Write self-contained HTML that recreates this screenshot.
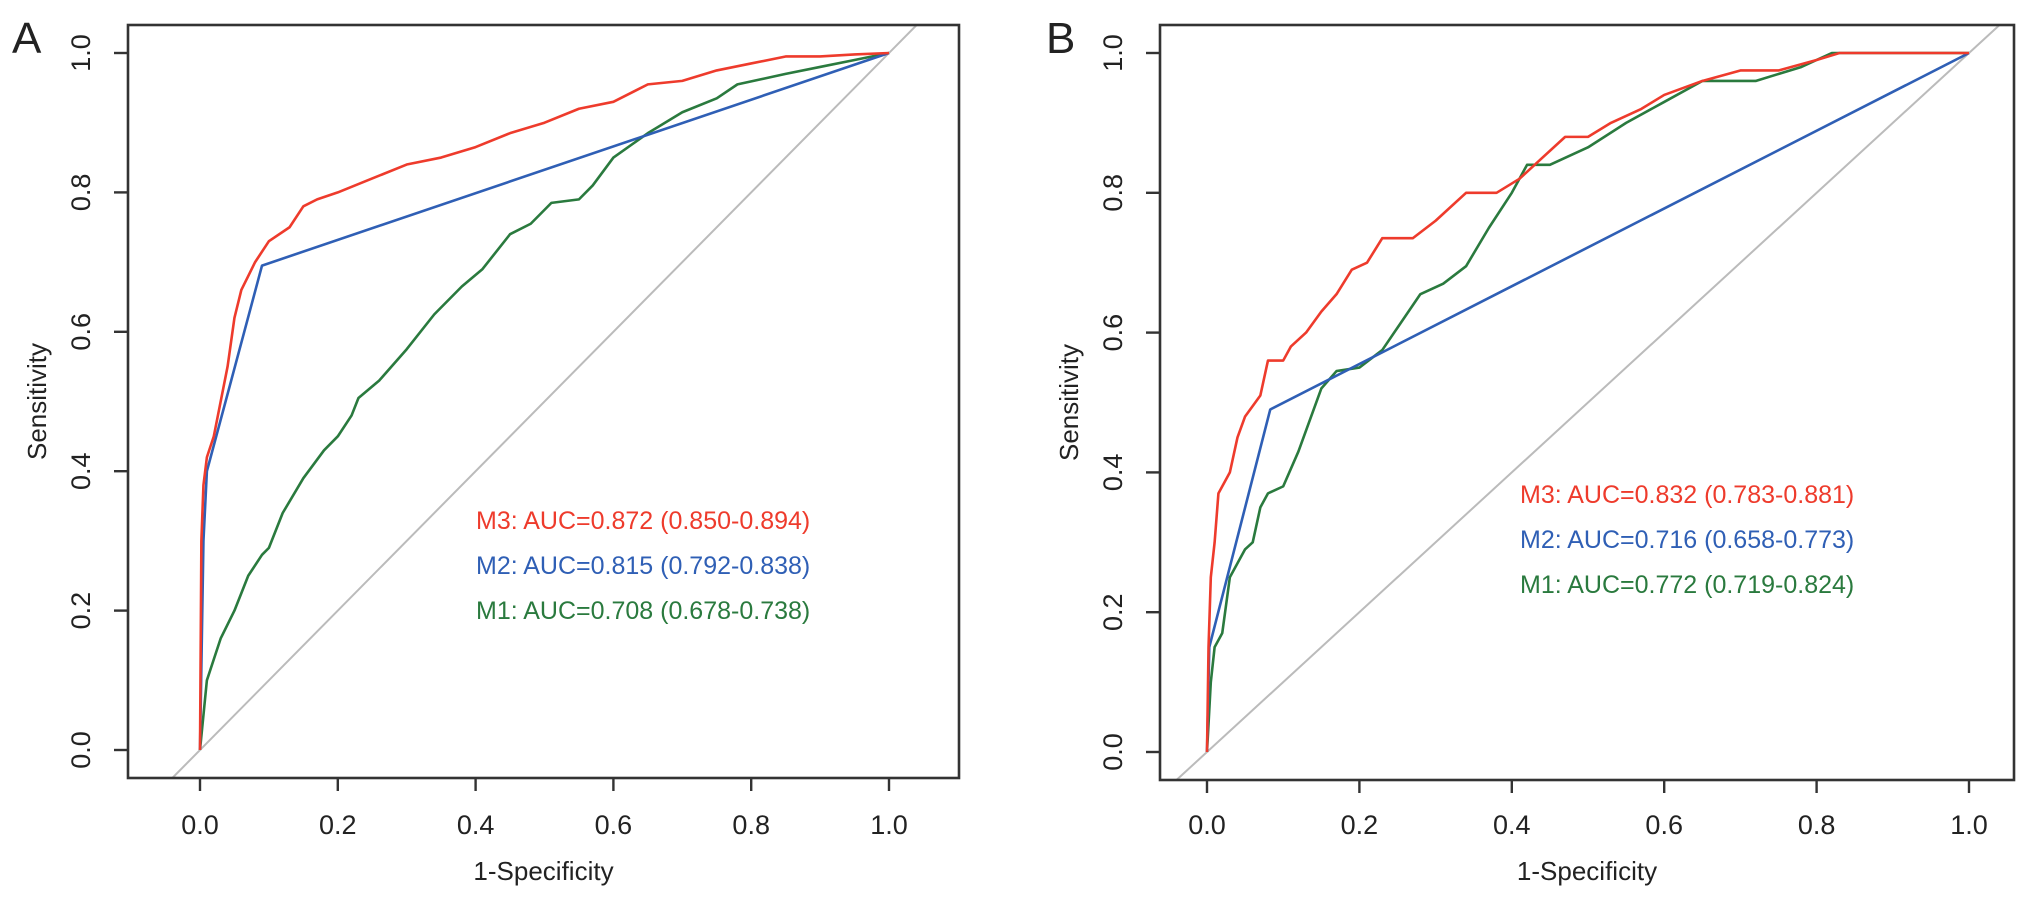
<!DOCTYPE html>
<html><head><meta charset="utf-8"><style>
body{margin:0;background:#fff}
svg{display:block}
text{font-family:"Liberation Sans",sans-serif;fill:#222}
</style></head><body>
<svg id="c" width="2032" height="900"></svg>
<script>
const ticks=[0,0.2,0.4,0.6,0.8,1.0];
const tickLabels=["0.0","0.2","0.4","0.6","0.8","1.0"];
const aM3x=[0,0.002,0.005,0.01,0.02,0.03,0.04,0.05,0.06,0.07,0.08,0.1,0.13,0.15,0.17,0.2,0.25,0.3,0.35,0.4,0.45,0.5,0.55,0.6,0.65,0.7,0.75,0.8,0.85,0.9,0.95,1];
const aM3y=[0,0.3,0.38,0.42,0.45,0.5,0.55,0.62,0.66,0.68,0.7,0.73,0.75,0.78,0.79,0.8,0.82,0.84,0.85,0.865,0.885,0.9,0.92,0.93,0.955,0.96,0.975,0.985,0.995,0.995,0.998,1];
const aM2x=[0,0.005,0.01,0.09,1];
const aM2y=[0,0.3,0.4,0.695,1];
const aM1x=[0,0.005,0.01,0.02,0.03,0.05,0.07,0.09,0.1,0.12,0.15,0.18,0.2,0.22,0.23,0.26,0.3,0.34,0.38,0.41,0.45,0.48,0.51,0.55,0.57,0.6,0.65,0.7,0.75,0.78,0.85,0.9,0.95,1];
const aM1y=[0,0.05,0.1,0.13,0.16,0.2,0.25,0.28,0.29,0.34,0.39,0.43,0.45,0.48,0.505,0.53,0.575,0.625,0.665,0.69,0.74,0.755,0.785,0.79,0.81,0.85,0.885,0.915,0.935,0.955,0.97,0.98,0.99,1];
const bM3x=[0,0.002,0.005,0.01,0.015,0.03,0.04,0.05,0.07,0.08,0.1,0.11,0.13,0.15,0.17,0.19,0.21,0.23,0.27,0.3,0.34,0.38,0.41,0.44,0.47,0.5,0.53,0.57,0.6,0.65,0.7,0.75,0.8,0.83,1];
const bM3y=[0,0.15,0.25,0.3,0.37,0.4,0.45,0.48,0.51,0.56,0.56,0.58,0.6,0.63,0.655,0.69,0.7,0.735,0.735,0.76,0.8,0.8,0.82,0.85,0.88,0.88,0.9,0.92,0.94,0.96,0.975,0.975,0.99,1,1];
const bM2x=[0,0.003,0.083,1];
const bM2y=[0,0.15,0.49,1];
const bM1x=[0,0.005,0.01,0.02,0.03,0.04,0.05,0.06,0.07,0.08,0.1,0.12,0.15,0.17,0.2,0.23,0.28,0.31,0.34,0.37,0.4,0.42,0.45,0.5,0.55,0.6,0.65,0.72,0.78,0.82,1];
const bM1y=[0,0.1,0.15,0.17,0.25,0.27,0.29,0.3,0.35,0.37,0.38,0.43,0.52,0.545,0.55,0.575,0.655,0.67,0.695,0.75,0.8,0.84,0.84,0.865,0.9,0.93,0.96,0.96,0.98,1,1];
const aLegend=["M3: AUC=0.872 (0.850-0.894)","M2: AUC=0.815 (0.792-0.838)","M1: AUC=0.708 (0.678-0.738)"];
const bLegend=["M3: AUC=0.832 (0.783-0.881)","M2: AUC=0.716 (0.658-0.773)","M1: AUC=0.772 (0.719-0.824)"];
const colors=["#ee3b2c","#2f5fb5","#2a7a3e"];
const NS="http://www.w3.org/2000/svg";
const svg=document.getElementById('c');
function mk(tag,attrs,parent){const e=document.createElementNS(NS,tag);for(const k in attrs)e.setAttribute(k,attrs[k]);(parent||svg).appendChild(e);return e;}
function panel(id,letter,box,x0,x1,y0,y1,series,legend,leg){
  const g=mk('g',{});
  
  
  const sx=v=>x0+(x1-x0)*v, sy=v=>y0+(y1-y0)*v;
  const cid='clip'+id;
  const cp=mk('clipPath',{id:cid},g);mk('rect',{x:box.l,y:box.t,width:box.r-box.l,height:box.b-box.t},cp);
  // diagonal
  const dvMin=Math.max((box.l-x0)/(x1-x0),(box.b-y0)/(y1-y0));
  const dvMax=Math.min((box.r-x0)/(x1-x0),(box.t-y0)/(y1-y0));
  const d=mk('line',{x1:sx(dvMin),y1:sy(dvMin),x2:sx(dvMax),y2:sy(dvMax),stroke:'#bbb','stroke-width':2},g);
  
  
  const names=['m1','m2','m3'];
  [2,1,0].forEach(i=>{});
  series.forEach((s,i)=>{
    const p=mk('polyline',{points:s.x.map((v,j)=>sx(v)+','+sy(s.y[j])).join(' '),fill:'none',stroke:s.c,'stroke-width':2.6,'stroke-linejoin':'round','clip-path':'url(#'+cid+')'},g);
    
    
  });
  const fr=mk('rect',{x:box.l,y:box.t,width:box.r-box.l,height:box.b-box.t,fill:'none',stroke:'#333','stroke-width':2.6},g);
  
  
  ticks.forEach((t,i)=>{
    mk('line',{x1:sx(t),y1:box.b,x2:sx(t),y2:box.b+13,stroke:'#333','stroke-width':2.4},g);
    const tx=mk('text',{x:sx(t),y:834,'text-anchor':'middle','font-size':27},g);tx.textContent=tickLabels[i];
    
    
    mk('line',{x1:box.l-14,y1:sy(t),x2:box.l,y2:sy(t),stroke:'#333','stroke-width':2.4},g);
    const ty=mk('text',{x:0,y:0,'text-anchor':'middle','font-size':27,transform:'translate('+(box.l-38)+','+sy(t)+') rotate(-90)'},g);ty.textContent=tickLabels[i];
    
    
  });
  const xt=mk('text',{x:(box.l+box.r)/2,y:880,'text-anchor':'middle','font-size':26},g);xt.textContent='1-Specificity';
  
  
  const yt=mk('text',{x:0,y:0,'text-anchor':'middle','font-size':26,transform:'translate('+(box.l-82)+','+((box.t+box.b)/2)+') rotate(-90)'},g);yt.textContent='Sensitivity';
  
  
  const L=mk('text',{x:letter.x,y:letter.y,'font-size':44},g);L.textContent=letter.t;
  
  
  legend.forEach((s,i)=>{
    const t=mk('text',{x:leg.x,y:leg.y+i*45,'font-size':25,fill:colors[i]},g);t.textContent=s;t.style.fill=colors[i];
    
    
  });
}
panel('a',{x:12,y:53,t:'A'},{l:128,r:959,t:25,b:778},200,889,750,53,
  [{x:aM1x,y:aM1y,c:colors[2],n:'m1'},{x:aM2x,y:aM2y,c:colors[1],n:'m2'},{x:aM3x,y:aM3y,c:colors[0],n:'m3'}],aLegend,{x:476,y:529});
panel('b',{x:1046,y:53,t:'B'},{l:1160,r:2014,t:25,b:780},1207,1969,752,53,
  [{x:bM1x,y:bM1y,c:colors[2],n:'m1'},{x:bM2x,y:bM2y,c:colors[1],n:'m2'},{x:bM3x,y:bM3y,c:colors[0],n:'m3'}],bLegend,{x:1520,y:503});
</script>
</body></html>
